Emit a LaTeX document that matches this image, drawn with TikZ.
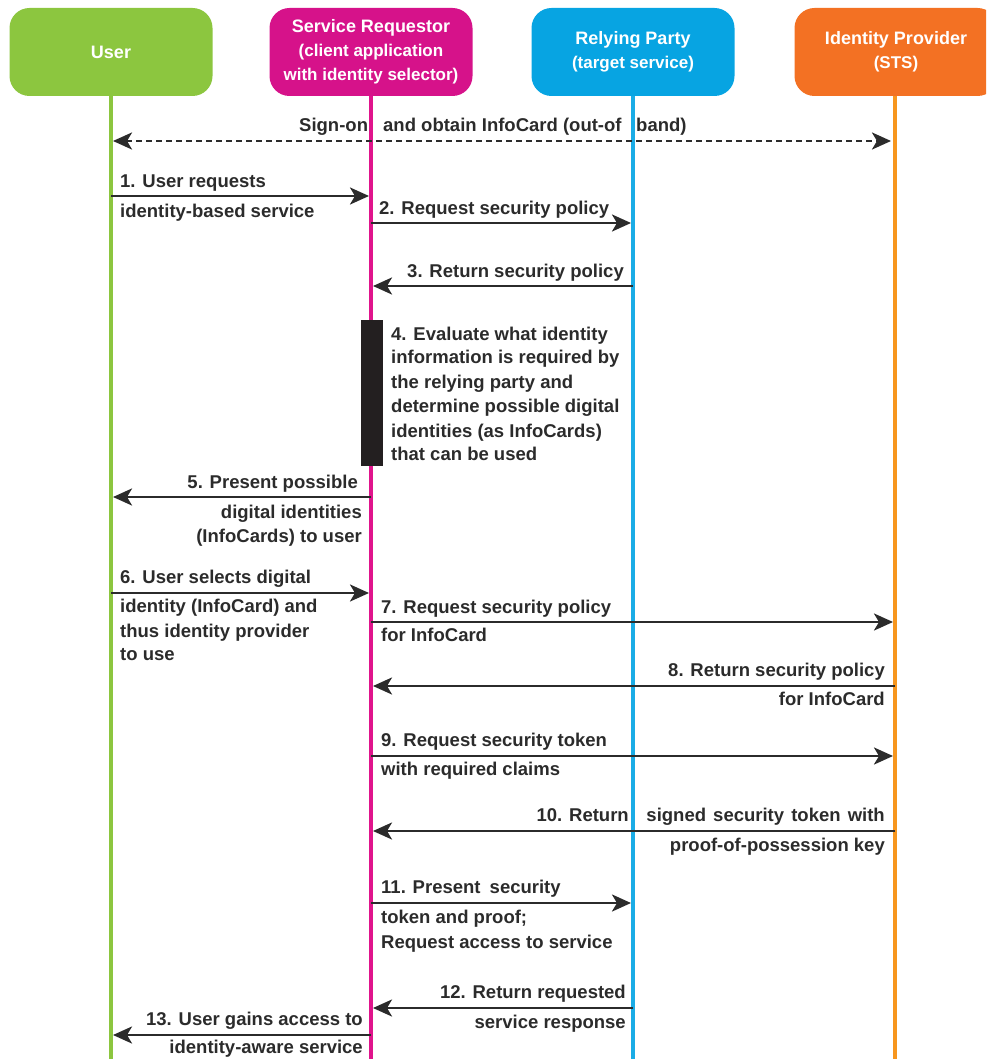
\documentclass[tikz,border=0pt]{standalone}
\usepackage{fontspec}
\setmainfont{Liberation Sans}
\usetikzlibrary{arrows.meta}
\definecolor{cU}{HTML}{8CC63F}
\definecolor{cS}{HTML}{D6128A}
\definecolor{cSl}{HTML}{E0148C}
\definecolor{cR}{HTML}{07A4E2}
\definecolor{cRl}{HTML}{1AACE6}
\definecolor{cI}{HTML}{F37123}
\definecolor{cIl}{HTML}{F7961E}
\definecolor{ink}{HTML}{2B2B2B}
\definecolor{barc}{HTML}{231F20}
\tikzset{
  hdr/.style={rounded corners=20pt, minimum width=203pt, minimum height=88pt, inner sep=0pt,
    text=white, align=center, font=\bfseries\fontsize{17}{24}\selectfont},
  life/.style={line width=4pt},
  tip/.style={},
  msg/.style={draw=ink, line width=2.8pt, -{Stealth[length=19pt,width=17pt,inset=5pt]}},
  dmsg/.style={draw=ink, line width=2.8pt, dash pattern=on 6pt off 4pt,
    {Stealth[length=19pt,width=17pt,inset=5pt]}-{Stealth[length=19pt,width=17pt,inset=5pt]}},
  lbl/.style={text=ink, font=\bfseries\fontsize{18.5}{22}\selectfont, inner sep=0pt, yshift=-3pt},
  lw/.style={lbl, anchor=mid west},
  le/.style={lbl, anchor=mid east},
}
\begin{document}
\begin{tikzpicture}[x=1pt,y=-1pt]
\useasboundingbox (0,0) rectangle (986,1059);
\clip (0,0) rectangle (986,1059);

% headers
\node[hdr, fill=cU] (hU) at (111,52) {\fontsize{18}{24}\selectfont User};
\node[hdr, fill=cS] (hS) at (371,52) {{\fontsize{18}{24}\selectfont Service Requestor}\\(client application\\with identity selector)};
\node[hdr, fill=cR] (hR) at (633,52) {{\fontsize{18}{24}\selectfont Relying Party}\\(target service)};
\node[hdr, fill=cI] (hI) at (896,52) {{\fontsize{18}{24}\selectfont Identity Provider}\\(STS)};

% lifelines
\coordinate (eU) at (111,1059);
\coordinate (eS) at (371,1059);
\coordinate (eR) at (633,1059);
\coordinate (eI) at (895,1059);
\draw[life, cU] (hU.south) -- (eU);
\draw[life, cSl] (hS.south) -- (eS);
\draw[life, cRl] (hR.south) -- (eR);
\draw[life, cIl] (hI.south -| eI) -- (eI);

% activation bar
\node[fill=barc, minimum width=22pt, minimum height=146pt, inner sep=0pt] (bar) at (372,393) {};

% message end points
\coordinate (d0a) at (113,141); \coordinate (d0b) at (891,141);
\coordinate (m1a) at (111,196); \coordinate (m1b) at (369,196);
\coordinate (m2a) at (371,223); \coordinate (m2b) at (631,223);
\coordinate (m3a) at (633,286); \coordinate (m3b) at (373,286);
\coordinate (m5a) at (371,497); \coordinate (m5b) at (113,497);
\coordinate (m6a) at (111,593); \coordinate (m6b) at (369,593);
\coordinate (m7a) at (371,622); \coordinate (m7b) at (893,622);
\coordinate (m8a) at (895,686); \coordinate (m8b) at (373,686);
\coordinate (m9a) at (371,756); \coordinate (m9b) at (893,756);
\coordinate (m10a) at (895,831); \coordinate (m10b) at (373,831);
\coordinate (m11a) at (371,903); \coordinate (m11b) at (631,903);
\coordinate (m12a) at (633,1008); \coordinate (m12b) at (373,1008);
\coordinate (m13a) at (371,1035); \coordinate (m13b) at (113,1035);

\draw[dmsg] (d0a) -- (d0b);
\draw[msg] (m1a) -- (m1b);
\draw[msg] (m2a) -- (m2b);
\draw[msg] (m3a) -- (m3b);
\draw[msg] (m5a) -- (m5b);
\draw[msg] (m6a) -- (m6b);
\draw[msg] (m7a) -- (m7b);
\draw[msg] (m8a) -- (m8b);
\draw[msg] (m9a) -- (m9b);
\draw[msg] (m10a) -- (m10b);
\draw[msg] (m11a) -- (m11b);
\draw[msg] (m12a) -- (m12b);
\draw[msg] (m13a) -- (m13b);

% labels
\node[lw] (t0a) at (299,126) {Sign-on};
\node[lw] (t0b) at (383,126) {and obtain InfoCard (out-of};
\node[lw] (t0c) at (636,126) {band)};

\node[lw] (t1a) at (120,182) {1. User requests};
\node[lw] (t1b) at (120,212) {identity-based service};
\node[lw] (t2a) at (379,209) {2. Request security policy};
\node[le] (t3a) at (624,272) {3. Return security policy};

\node[lw] (t4a) at (391,335) {4. Evaluate what identity};
\node[lw] (t4b) at (391,358) {information is required by};
\node[lw] (t4c) at (391,383) {the relying party and};
\node[lw] (t4d) at (391,407) {determine possible digital};
\node[lw] (t4e) at (391,432) {identities (as InfoCards)};
\node[lw] (t4f) at (391,455) {that can be used};

\node[le] (t5a) at (358,483) {5. Present possible};
\node[le] (t5b) at (362,513) {digital identities};
\node[le] (t5c) at (362,537) {(InfoCards) to user};

\node[lw] (t6a) at (120,578) {6. User selects digital};
\node[lw] (t6b) at (120,607) {identity (InfoCard) and};
\node[lw] (t6c) at (120,632) {thus identity provider};
\node[lw] (t6d) at (120,655) {to use};

\node[lw] (t7a) at (381,608) {7. Request security policy};
\node[lw] (t7b) at (381,636) {for InfoCard};

\node[le] (t8a) at (885,671) {8. Return security policy};
\node[le] (t8b) at (885,700) {for InfoCard};

\node[lw] (t9a) at (381,741) {9. Request security token};
\node[lw] (t9b) at (381,770) {with required claims};

\node[le] (t10a) at (629,816) {10. Return};
\node[le] (t10b) at (885,816) {signed\hspace{2pt} security\hspace{2pt} token\hspace{2pt} with};
\node[le] (t10c) at (885,846) {proof-of-possession key};

\node[lw] (t11a) at (381,888) {11. Present\hspace{4pt} security};
\node[lw] (t11b) at (381,918) {token and proof;};
\node[lw] (t11c) at (381,943) {Request access to service};

\node[le] (t12a) at (626,993) {12. Return requested};
\node[le] (t12b) at (626,1023) {service response};

\node[le] (t13a) at (363,1020) {13. User gains access to};
\node[le] (t13b) at (363,1048) {identity-aware service};
\end{tikzpicture}
\end{document}
